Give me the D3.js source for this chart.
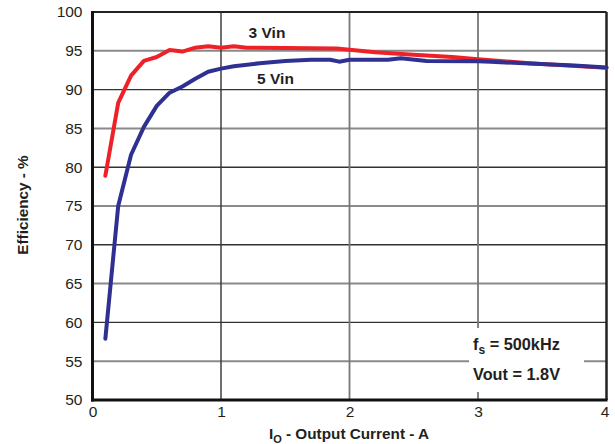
<!DOCTYPE html>
<html><head><meta charset="utf-8">
<script src="https://cdn.jsdelivr.net/npm/d3@7"></script>
<style>html,body{margin:0;padding:0;background:#fff;}svg{display:block;font-family:"Liberation Sans",Arial,sans-serif;}</style>
</head><body>
<svg id="c" width="615" height="444"></svg>
<script>
const xTicks = [0, 1, 2, 3, 4];
const yTicks = [50, 55, 60, 65, 70, 75, 80, 85, 90, 95, 100];
const current3 = [0.1,0.2,0.3,0.4,0.5,0.6,0.7,0.8,0.9,1.0,1.1,1.2,1.5,1.9,2.2,2.5,2.8,3.0,3.4,4.0];
const eff3 =     [78.9,88.3,91.8,93.7,94.2,95.1,94.9,95.4,95.6,95.4,95.6,95.4,95.35,95.3,94.8,94.5,94.2,93.9,93.4,92.8];
const current5 = [0.1,0.2,0.3,0.4,0.5,0.6,0.7,0.8,0.9,1.0,1.1,1.3,1.5,1.7,1.85,1.92,2.0,2.3,2.4,2.6,3.0,3.1,3.4,3.75,4.0];
const eff5 =     [57.9,75.0,81.6,85.2,87.9,89.6,90.4,91.4,92.3,92.7,93.0,93.4,93.7,93.85,93.85,93.6,93.85,93.85,94.05,93.7,93.65,93.6,93.35,93.1,92.85];
const seriesNames = ["3 Vin", "5 Vin"];
const seriesColors = ["#ee2128", "#2e3192"];

const svg = d3.select("#c");
const L = 92.5, R = 606.5, T = 12, B = 400;
const x = d3.scaleLinear().domain([0, 4]).range([L, R]);
const y = d3.scaleLinear().domain([50, 100]).range([B, T]);

// grid
const g = svg.append("g");
yTicks.filter(v => v > 50 && v < 100).forEach(v => {
  g.append("line").attr("x1", L).attr("x2", R).attr("y1", y(v)).attr("y2", y(v))
    .attr("stroke", v % 10 === 0 ? "#333" : "#8a8a8a").attr("stroke-width", v % 10 === 0 ? 1.4 : 2);
});
xTicks.filter(v => v > 0 && v < 4).forEach(v => {
  g.append("line").attr("y1", T).attr("y2", B).attr("x1", x(v)).attr("x2", x(v))
    .attr("stroke", v === 1 ? "#333" : "#777").attr("stroke-width", v === 1 ? 1.4 : 1.8);
});

// annotation box (white) covering grid
svg.append("rect").attr("x", 469).attr("y", 328).attr("width", 115).attr("height", 64).attr("fill", "#fff");

// frame
svg.append("line").attr("x1", L).attr("x2", R).attr("y1", T).attr("y2", T).attr("stroke", "#222").attr("stroke-width", 2);
svg.append("line").attr("x1", R).attr("x2", R).attr("y1", T).attr("y2", B).attr("stroke", "#222").attr("stroke-width", 2.5);
svg.append("line").attr("x1", L).attr("x2", L).attr("y1", T - 1).attr("y2", B + 1.5).attr("stroke", "#111").attr("stroke-width", 3);
svg.append("line").attr("x1", L - 1.5).attr("x2", R + 1).attr("y1", B).attr("y2", B).attr("stroke", "#111").attr("stroke-width", 3);

// axes tick labels
const yAxis = d3.axisLeft(y).tickValues(yTicks).tickSize(0).tickPadding(10);
const ya = svg.append("g").attr("transform", `translate(${L},0)`).call(yAxis);
ya.select(".domain").remove();
ya.selectAll("text").attr("font-size", 15.5).attr("fill", "#231f20").attr("font-family", "Liberation Sans, Arial, sans-serif");
const xAxis = d3.axisBottom(x).tickValues(xTicks).tickFormat(d3.format("d")).tickSize(0).tickPadding(6);
const xa = svg.append("g").attr("transform", `translate(0,${B})`).call(xAxis);
xa.select(".domain").remove();
xa.selectAll("text").attr("font-size", 15.5).attr("fill", "#231f20").attr("font-family", "Liberation Sans, Arial, sans-serif");
xa.selectAll(".tick").filter(d => d === 4).select("text").attr("dx", -2);

// lines
const line = d3.line().x(d => x(d[0])).y(d => y(d[1])).curve(d3.curveLinear);
const data3 = current3.map((c, i) => [c, eff3[i]]);
const data5 = current5.map((c, i) => [c, eff5[i]]);
svg.append("path").datum(data3).attr("d", line).attr("fill", "none").attr("stroke", seriesColors[0]).attr("stroke-width", 4).attr("stroke-linejoin", "round").attr("stroke-linecap", "round");
svg.append("path").datum(data5).attr("d", line).attr("fill", "none").attr("stroke", seriesColors[1]).attr("stroke-width", 4).attr("stroke-linejoin", "round").attr("stroke-linecap", "round");

// series labels
svg.append("text").attr("x", 267).attr("y", 38).attr("text-anchor", "middle").attr("font-size", 15.5).attr("font-weight", "bold").attr("fill", "#231f20").text(seriesNames[0]);
svg.append("text").attr("x", 275.5).attr("y", 84).attr("text-anchor", "middle").attr("font-size", 15.5).attr("font-weight", "bold").attr("fill", "#231f20").text(seriesNames[1]);

// annotations
const a1 = svg.append("text").attr("x", 473).attr("y", 349.5).attr("font-size", 16.3).attr("font-weight", "bold").attr("fill", "#231f20");
a1.append("tspan").text("f");
a1.append("tspan").attr("font-size", 12).attr("dy", 4).text("s");
a1.append("tspan").attr("dy", -4).text(" = 500kHz");
svg.append("text").attr("x", 473).attr("y", 379.5).attr("font-size", 16.3).attr("font-weight", "bold").attr("fill", "#231f20").text("Vout = 1.8V");

// axis titles
svg.append("text").attr("transform", "translate(28,205) rotate(-90)").attr("text-anchor", "middle").attr("font-size", 15.3).attr("font-weight", "bold").attr("fill", "#231f20").text("Efficiency - %");
const xt = svg.append("text").attr("x", 349).attr("y", 439).attr("text-anchor", "middle").attr("font-size", 15.3).attr("font-weight", "bold").attr("fill", "#231f20");
xt.append("tspan").text("I");
xt.append("tspan").attr("font-size", 11).attr("dy", 3.5).text("O");
xt.append("tspan").attr("dy", -3.5).text(" - Output Current - A");
</script>
</body></html>
